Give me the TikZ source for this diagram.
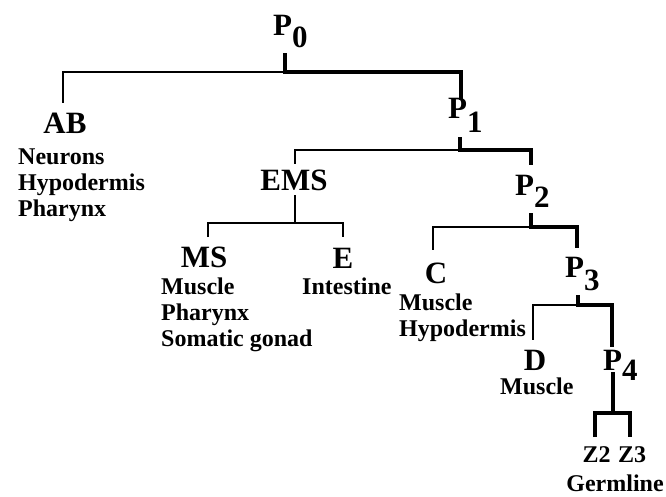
\documentclass[tikz,border=0pt]{standalone}
\usepackage{fontspec}
\setmainfont{Liberation Serif}
\newcommand\Pn[2][12pt]{P\raisebox{-#1}{#2}}
\newcommand\lst[1]{\begin{tabular}[t]{@{}l@{}}#1\end{tabular}}
\tikzset{
  big/.style={inner sep=0pt, font=\fontsize{31}{33}\selectfont\bfseries},
  small/.style={inner sep=0pt, anchor=base west, font=\fontsize{24}{26}\selectfont\bfseries},
  thinline/.style={line width=1.3pt},
  thickline/.style={line width=4.5pt, line join=miter},
}
\begin{document}
\begin{tikzpicture}[x=1pt, y=-1pt]
\useasboundingbox (0,0) rectangle (666,496);
% labels
\node[big, anchor=base west] (P0) at (273,35) {\Pn{0}};
\node[big, anchor=base west] (P1) at (448,118) {\Pn[14pt]{1}};
\node[big, anchor=base west] (P2) at (515,195) {\Pn{2}};
\node[big, anchor=base west] (P3) at (565,277) {\Pn[13pt]{3}};
\node[big, anchor=base west] (P4) at (603,370) {\Pn[10pt]{4}};
\node[big, anchor=base] (AB) at (65,133) {AB};
\node[big, anchor=base] (EMS) at (294,190) {EMS};
\node[big, anchor=base] (MS) at (204,267) {MS};
\node[big, anchor=base] (E) at (343,268) {E};
\node[big, anchor=base] (C) at (436,283) {C};
\node[big, anchor=base] (D) at (535,370) {D};
\node[small] (ABl) at (18,164) {\lst{Neurons\\Hypodermis\\Pharynx}};
\node[small] (MSl) at (161,294) {\lst{Muscle\\Pharynx\\Somatic gonad}};
\node[small] (El) at (302,294) {Intestine};
\node[small] (Cl) at (399,310) {\lst{Muscle\\Hypodermis}};
\node[small] (Dl) at (500,394) {Muscle};
\node[small, anchor=base] (Z2) at (596.5,462) {Z2};
\node[small, anchor=base] (Z3) at (632,462) {Z3};
\node[small, anchor=base] (Gl) at (615,491) {Germline};
% junction coordinates
\coordinate (p0s) at (285,53);
\coordinate (p0j) at (285,72);
\coordinate (abt) at (63,103);
\coordinate (p1t) at (461,100);
\coordinate (p1s) at (460,137);
\coordinate (p1j) at (460,150);
\coordinate (emst) at (295,164);
\coordinate (p2t) at (531,165);
\coordinate (emsb) at (295,195);
\coordinate (emsj) at (295,223);
\coordinate (mst) at (208,237);
\coordinate (et) at (343,237);
\coordinate (p2s) at (531,213);
\coordinate (p2j) at (531,227);
\coordinate (ct) at (433,250);
\coordinate (p3t) at (577,248);
\coordinate (p3s) at (578,295);
\coordinate (p3j) at (578,305);
\coordinate (dt) at (533,340);
\coordinate (p4t) at (612,347);
\coordinate (p4s) at (613,372);
\coordinate (p4j) at (613,413);
\coordinate (z2t) at (595,437);
\coordinate (z3t) at (630,437);
% thin branches
\draw[thinline] (p0j) -| (abt);
\draw[thinline] (p1j) -| (emst);
\draw[thinline] (emsb) -- (emsj);
\draw[thinline] (mst) |- (emsj) -| (et);
\draw[thinline] (p2j) -| (ct);
\draw[thinline] (p3j) -| (dt);
% thick germline
\draw[thickline] (p0s) -- (p0j) -| (p1t);
\draw[thickline] (p1s) -- (p1j) -| (p2t);
\draw[thickline] (p2s) -- (p2j) -| (p3t);
\draw[thickline] (p3s) -- (p3j) -| (p4t);
\draw[thickline] (p4s) -- (p4j);
\draw[thickline] (z2t) |- (p4j) -| (z3t);
\end{tikzpicture}
\end{document}
